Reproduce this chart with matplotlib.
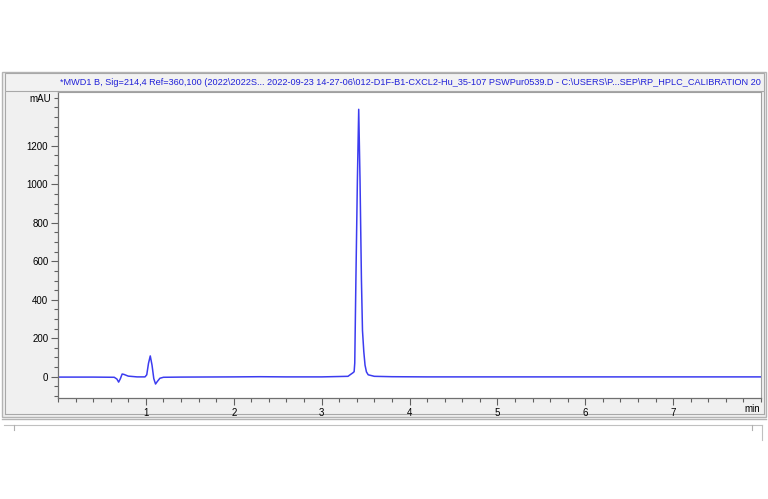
import matplotlib
matplotlib.use("Agg")
import matplotlib.pyplot as plt
from matplotlib.patches import Rectangle
from matplotlib.lines import Line2D
from matplotlib.ticker import MultipleLocator, FixedLocator

plt.rcParams['font.family'] = ['Liberation Sans', 'DejaVu Sans']

# ---- data ----
time_min = [0.00, 0.40, 0.64, 0.67, 0.69, 0.71, 0.73, 0.75, 0.80, 0.90,
            0.99, 1.01, 1.03, 1.05, 1.07, 1.09, 1.11, 1.13, 1.16, 1.20,
            1.40, 2.00, 2.30, 2.60, 3.00, 3.30, 3.33, 3.355, 3.37, 3.377,
            3.39, 3.407, 3.422, 3.437, 3.453, 3.465, 3.48, 3.494, 3.51, 3.53,
            3.60, 3.80, 4.20, 5.00, 6.00, 7.00, 8.00]
signal_mau = [-2, -2, -3, -12, -28, -10, 14, 12, 3, -1,
              -1, 10, 70, 108, 60, -10, -38, -25, -8, -3,
              -2, -1, 0, -1, -1, 2, 12, 20, 26, 71,
              503, 1022, 1390, 1022, 503, 240, 130, 60, 25, 10,
              2, 0, -1, -1, -1, -1, -1]

y_major = [0, 200, 400, 600, 800, 1000, 1200]
y_labels = ["0", "200", "400", "600", "800", "1000", "1200"]
x_major = [1, 2, 3, 4, 5, 6, 7]
x_labels = ["1", "2", "3", "4", "5", "6", "7"]
title_text = ("*MWD1 B, Sig=214,4 Ref=360,100 (2022\\2022S... 2022-09-23 14-27-06\\"
              "012-D1F-B1-CXCL2-Hu_35-107 PSWPur0539.D - C:\\USERS\\P...SEP\\"
              "RP_HPLC_CALIBRATION 20")

W, H = 768, 499
fig = plt.figure(figsize=(W / 100, H / 100), dpi=100)
fig.patch.set_facecolor('white')

def fx(px):
    return px / W

def fy(py):
    return 1 - py / H

def rect(x0, y0, x1, y1, fc, ec, lw=1.0, z=0):
    r = Rectangle((fx(x0), fy(y1)), fx(x1) - fx(x0), fy(y0) - fy(y1),
                  transform=fig.transFigure, facecolor=fc, edgecolor=ec,
                  linewidth=lw, zorder=z)
    fig.patches.append(r)
    return r

def hline(x0, x1, y, c, lw=1.0):
    fig.lines.append(Line2D([fx(x0), fx(x1)], [fy(y), fy(y)],
                            transform=fig.transFigure, color=c, linewidth=lw, zorder=0.5))

def vline(x, y0, y1, c, lw=1.0):
    fig.lines.append(Line2D([fx(x), fx(x)], [fy(y0), fy(y1)],
                            transform=fig.transFigure, color=c, linewidth=lw, zorder=0.5))

# outer window panel
rect(2, 72, 766, 417, '#f0f0f0', '#b4b4b4', 1.0)
# title bar
tb = rect(5, 73, 764, 91, '#f2f2f2', '#a8a8a8', 0.8)
# inner panel border
vline(5, 92, 414, '#a8a8a8', 0.8)
hline(5, 764, 414, '#a8a8a8', 0.8)
vline(764, 92, 414, '#a8a8a8', 0.8)
# lower panel lines
hline(2, 766, 419, '#b4b4b4', 1.0)
hline(4, 762, 425, '#c0c0c0', 0.8)
vline(14, 425, 430, '#b0b0b0', 0.8)
vline(752, 425, 430, '#b0b0b0', 0.8)
vline(762, 425, 440, '#c0c0c0', 0.8)

fig.text(fx(60), fy(82.5), title_text, color='#2020d8', fontsize=6.6,
         ha='left', va='center', zorder=6)

# main axes
ax_l, ax_r, ax_t, ax_b = 58, 761, 92, 398
ax = fig.add_axes([fx(ax_l), fy(ax_b), fx(ax_r) - fx(ax_l), fy(ax_t) - fy(ax_b)])
ax.set_zorder(5)
ax.set_facecolor('white')
ax.plot(time_min, signal_mau, color='#3c3cf0', linewidth=1.1)

ax.set_xlim(0, 8.0)
ax.set_ylim(-110.7, 1480)

ax.xaxis.set_major_locator(FixedLocator(x_major))
ax.set_xticklabels(x_labels)
ax.xaxis.set_minor_locator(MultipleLocator(0.2))
ax.yaxis.set_major_locator(FixedLocator(y_major))
ax.set_yticklabels(y_labels)
ax.yaxis.set_minor_locator(MultipleLocator(50))

ax.tick_params(axis='both', which='major', direction='out', length=5,
               width=0.8, color='#606060', labelsize=7, pad=2)
ax.tick_params(axis='both', which='minor', direction='out', length=3,
               width=0.8, color='#606060')
ax.tick_params(axis='x', which='major', pad=2.5)

for s in ['left', 'bottom']:
    ax.spines[s].set_color('#707070')
    ax.spines[s].set_linewidth(0.9)
for s in ['top', 'right']:
    ax.spines[s].set_color('#a0a0a0')
    ax.spines[s].set_linewidth(0.8)

fig.text(fx(51), fy(99), "mAU", fontsize=7, ha='right', va='center', color='black', zorder=6)
fig.text(fx(760), fy(409), "min", fontsize=7, ha='right', va='center', color='black', zorder=6)

fig.savefig('out.png', dpi=100, facecolor='white')
